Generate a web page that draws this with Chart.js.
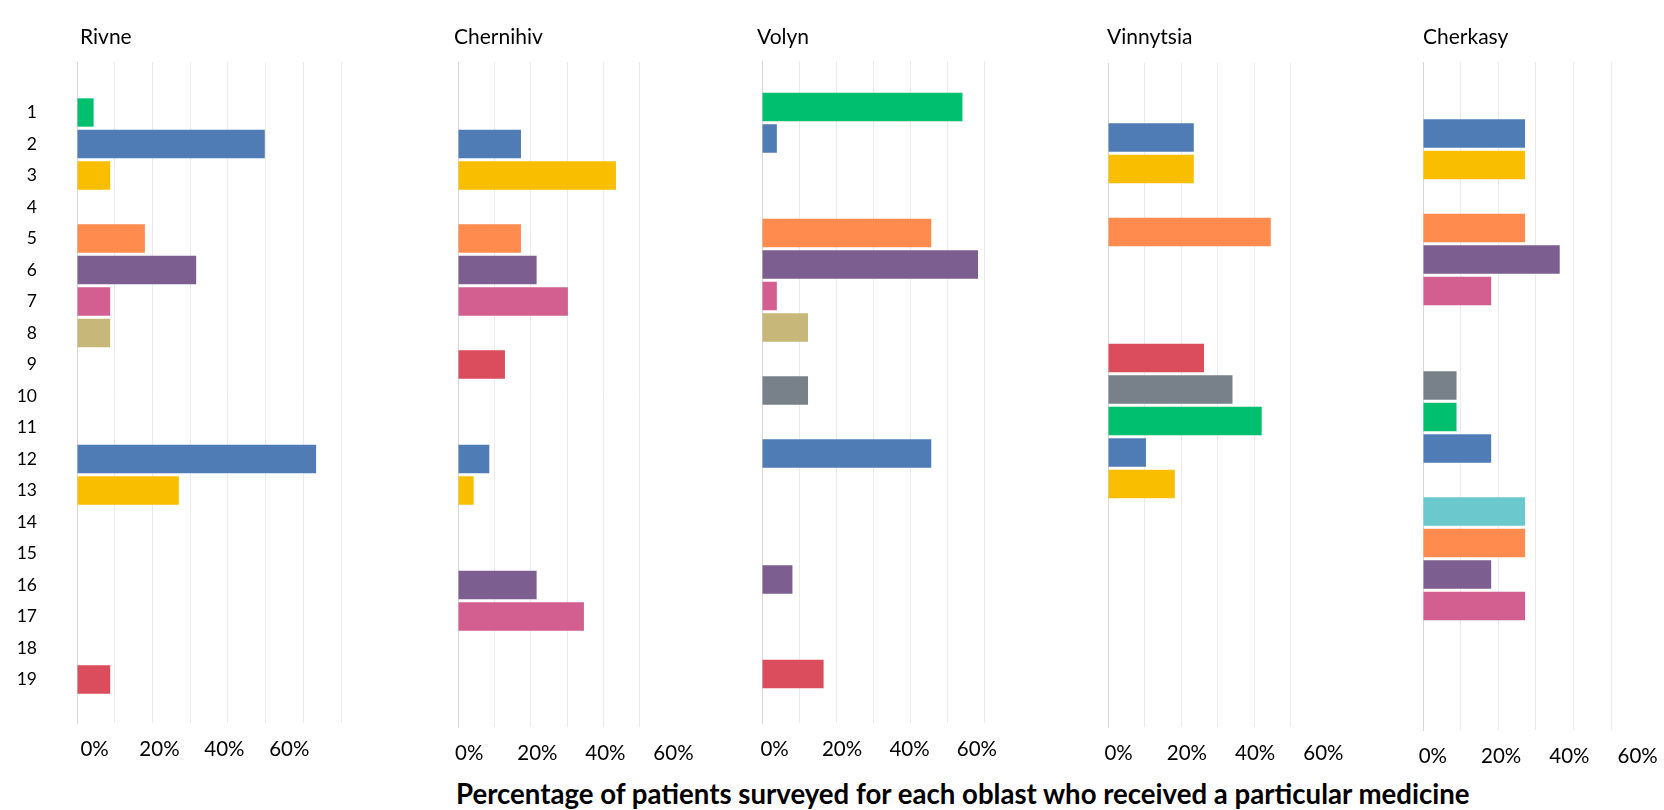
<!DOCTYPE html>
<html>
<head>
<meta charset="utf-8">
<script src="https://cdn.jsdelivr.net/npm/chart.js@4.4.1/dist/chart.umd.min.js"></script>
<style>
  html, body { margin: 0; padding: 0; background: #fff; }
  #board { position: relative; width: 1664px; height: 810px; overflow: hidden; font-family: Lato, 'Open Sans', sans-serif; color: #000; }
  .panel { position: absolute; top: 0; height: 810px; }
  .panel-title { position: absolute; top: 25px; font-size: 21px; line-height: 1; white-space: nowrap; }
  #caption { position: absolute; top: 780px; left: 456px; font-size: 27.6px; font-weight: bold; line-height: 1; white-space: nowrap; }
</style>
</head>
<body>
<div id="board">
  <div id="caption">Percentage of patients surveyed for each oblast who received a particular medicine</div>
</div>
<script>
// --- DATA ---
const rows = ['1', '2', '3', '4', '5', '6', '7', '8', '9', '10',
              '11', '12', '13', '14', '15', '16', '17', '18', '19'];
const pctTicks = [0, 20, 40, 60];

// one colour per medicine, repeating every ten rows
const palette = ['#00BF6F', '#507CB6', '#F9BE00', '#6BC8CD', '#FF8B4F',
                 '#7D5E90', '#D25F90', '#C7B879', '#DB4D5C', '#78808A'];

// share of patients (%) per medicine, rows 1..19
const rivne     = [4.4, 49.8, 8.8, null, 18.0, 31.6, 8.8, 8.8, null, null, null, 63.4, 27.0, null, null, null, null, null, 8.8];
const chernihiv = [null, 17.3, 43.4, null, 17.3, 21.6, 30.2, null, 12.9, null, null, 8.6, 4.3, null, null, 21.6, 34.6, null, null];
const volyn     = [54.0, 4.0, null, null, 45.6, 58.2, 4.0, 12.4, null, 12.4, null, 45.6, null, null, null, 8.2, null, null, 16.6];
const vinnytsia = [null, 23.5, 23.5, null, 44.6, null, null, null, 26.3, 34.1, 42.1, 10.4, 18.3, null, null, null, null, null, null];
const cherkasy  = [null, 27.1, 27.1, null, 27.1, 36.3, 18.1, null, null, 8.9, 8.9, 18.1, null, 27.1, 27.1, 18.1, 27.1, null, null];

// --- LAYOUT ---
const PX_PER_PCT = 3.766;
const ROW_PITCH = 31.5;
const RIGHT_PAD = 24;

const panels = [
  { name: 'Rivne',     values: rivne,     axisX: 77,   max: 70, gridMax: 70, top: 62, bottom: 723, firstRow: 112.5, lab0: 4.65, lab60: 56.3, titleX: 80,   showRows: true },
  { name: 'Chernihiv', values: chernihiv, axisX: 458,  max: 60, gridMax: 50, top: 62, bottom: 727, firstRow: 112.5, lab0: 3.1,  lab60: 59.2, titleX: 454 },
  { name: 'Volyn',     values: volyn,     axisX: 762,  max: 60, gridMax: 60, top: 61, bottom: 723, firstRow: 107,   lab0: 3.4,  lab60: 57.9, titleX: 757 },
  { name: 'Vinnytsia', values: vinnytsia, axisX: 1108, max: 60, gridMax: 50, top: 63, bottom: 727, firstRow: 106,   lab0: 2.9,  lab60: 59.0, titleX: 1107 },
  { name: 'Cherkasy',  values: cherkasy,  axisX: 1423, max: 60, gridMax: 50, top: 62, bottom: 730, firstRow: 102,   lab0: 2.6,  lab60: 57.0, titleX: 1423 }
];

const board = document.getElementById('board');
const FONT = 'Lato, "Open Sans", sans-serif';

function makePanel(p) {
  const gutter = p.showRows ? p.axisX : 20;
  const width = Math.round(gutter + p.max * PX_PER_PCT + RIGHT_PAD);

  const wrap = document.createElement('div');
  wrap.className = 'panel';
  wrap.style.left = (p.axisX - gutter) + 'px';
  wrap.style.width = width + 'px';
  const canvas = document.createElement('canvas');
  wrap.appendChild(canvas);
  board.appendChild(wrap);

  const title = document.createElement('div');
  title.className = 'panel-title';
  title.style.left = p.titleX + 'px';
  title.textContent = p.name;
  board.appendChild(title);

  // row 1 sits at firstRow, rows are ROW_PITCH apart
  const yMin = 1 - (p.firstRow - p.top) / ROW_PITCH;
  const yMax = yMin + (p.bottom - p.top) / ROW_PITCH;

  // the percent labels are spaced a little differently from the gridlines
  const k = 60 / (p.lab60 - p.lab0);

  new Chart(canvas, {
    type: 'bar',
    data: {
      datasets: [{
        data: p.values.map((v, i) => ({ x: v, y: i + 1 })),
        backgroundColor: p.values.map((_, i) => palette[i % palette.length]),
        categoryPercentage: 1,
        barPercentage: 0.9
      }]
    },
    options: {
      indexAxis: 'y',
      responsive: true,
      maintainAspectRatio: false,
      animation: false,
      layout: { padding: { top: p.top, right: RIGHT_PAD, bottom: 0, left: 0 } },
      plugins: { legend: { display: false }, tooltip: { enabled: false } },
      scales: {
        x: {
          type: 'linear',
          min: 0,
          max: p.max,
          ticks: { stepSize: 10, display: false },
          grid: {
            drawTicks: false,
            color: ctx => (ctx.tick && ctx.tick.value > 0 && ctx.tick.value <= p.gridMax) ? '#ebebeb' : 'rgba(0,0,0,0)'
          },
          border: { display: false },
          afterFit: s => { s.height = 0; }
        },
        pct: {
          type: 'linear',
          position: 'bottom',
          min: -p.lab0 * k,
          max: (p.max - p.lab0) * k,
          afterBuildTicks: s => { s.ticks = pctTicks.map(v => ({ value: v })); },
          ticks: {
            callback: v => v + '%',
            autoSkip: false,
            maxRotation: 0,
            padding: 14,
            color: '#000',
            font: { family: FONT, size: 20.5 }
          },
          grid: { display: false, drawTicks: false },
          border: { display: false },
          afterFit: s => { s.height = 810 - p.bottom; }
        },
        y: {
          type: 'linear',
          reverse: true,
          offset: false,
          grace: 0,
          min: yMin,
          max: yMax,
          afterBuildTicks: s => { s.ticks = rows.map((_, i) => ({ value: i + 1 })); },
          ticks: {
            display: !!p.showRows,
            callback: v => rows[v - 1],
            autoSkip: false,
            padding: 40,
            color: '#000',
            font: { family: FONT, size: 17.5 }
          },
          grid: { display: false, drawTicks: false, offset: false },
          border: { display: true, color: '#d6d6d6' },
          afterFit: s => { s.width = gutter; }
        }
      }
    }
  });
}

window.onload = () => {
  panels.forEach(makePanel);
};
</script>
</body>
</html>
